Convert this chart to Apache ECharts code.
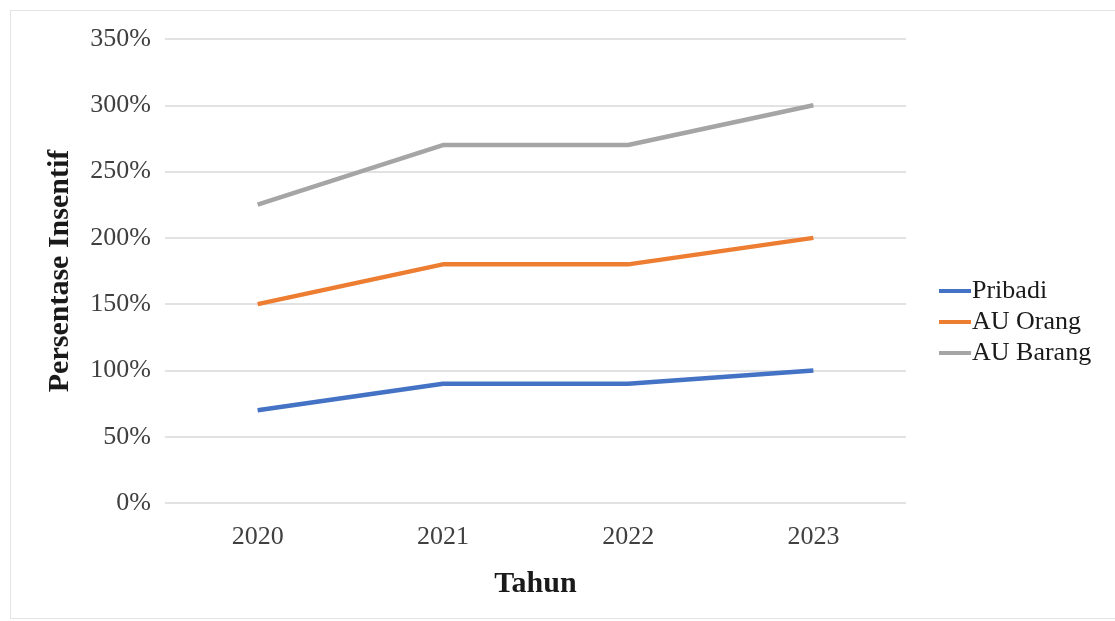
<!DOCTYPE html>
<html>
<head>
<meta charset="utf-8">
<script src="https://cdn.jsdelivr.net/npm/echarts@6/dist/echarts.min.js"></script>
<style>
  html, body { margin: 0; padding: 0; background: #fff; }
  #frame { position: absolute; left: 10px; top: 10px; width: 1110px; height: 609px; border: 1px solid #e3e3e3; box-sizing: border-box; }
  #chart { position: absolute; left: 0; top: 0; width: 1115px; height: 621px; }
</style>
</head>
<body>
<div id="frame"></div>
<div id="chart"></div>
<script>
// tahun dan nilai persentase insentif
var years = ["2020", "2021", "2022", "2023"];
var pribadi = [70, 90, 90, 100];
var auOrang = [150, 180, 180, 200];
var auBarang = [225, 270, 270, 300];

var serif = "Liberation Serif";

var myChart = echarts.init(document.getElementById('chart'));
var option = {
    animation: false,
    grid: { left: 165, right: 209, top: 39, bottom: 118 },
    legend: {
        orient: 'vertical',
        left: 934,
        top: 273,
        itemWidth: 32,
        itemHeight: 4,
        itemGap: 5,
        icon: 'rect',
        textStyle: { fontFamily: serif, fontSize: 26, color: '#1a1a1a', padding: [0, 0, 0, -4] },
        data: ['Pribadi', 'AU Orang', 'AU Barang']
    },
    xAxis: {
        type: 'category',
        data: years,
        boundaryGap: true,
        axisLine: { show: false },
        axisTick: { show: false },
        axisLabel: { fontFamily: serif, fontSize: 26, color: '#404040', margin: 21 },
        name: 'Tahun',
        nameLocation: 'middle',
        nameGap: 66,
        nameTextStyle: { fontFamily: serif, fontSize: 30, fontWeight: 'bold', color: '#1a1a1a' }
    },
    yAxis: {
        type: 'value',
        min: 0,
        max: 350,
        interval: 50,
        axisLine: { show: false },
        axisTick: { show: false },
        splitLine: { lineStyle: { color: '#d9d9d9', width: 1.5 } },
        axisLabel: {
            fontFamily: serif, fontSize: 26, color: '#404040', margin: 14,
            formatter: function (v) { return v + '%'; }
        },
        name: 'Persentase Insentif',
        nameLocation: 'middle',
        nameGap: 90,
        nameTextStyle: { fontFamily: serif, fontSize: 30, fontWeight: 'bold', color: '#1a1a1a' }
    },
    series: [
        { name: 'Pribadi', type: 'line', data: pribadi, symbol: 'none',
          lineStyle: { color: '#4472C4', width: 4.5 }, itemStyle: { color: '#4472C4' } },
        { name: 'AU Orang', type: 'line', data: auOrang, symbol: 'none',
          lineStyle: { color: '#ED7D31', width: 4.5 }, itemStyle: { color: '#ED7D31' } },
        { name: 'AU Barang', type: 'line', data: auBarang, symbol: 'none',
          lineStyle: { color: '#A5A5A5', width: 4.5 }, itemStyle: { color: '#A5A5A5' } }
    ]
};
myChart.setOption(option);
</script>
</body>
</html>
